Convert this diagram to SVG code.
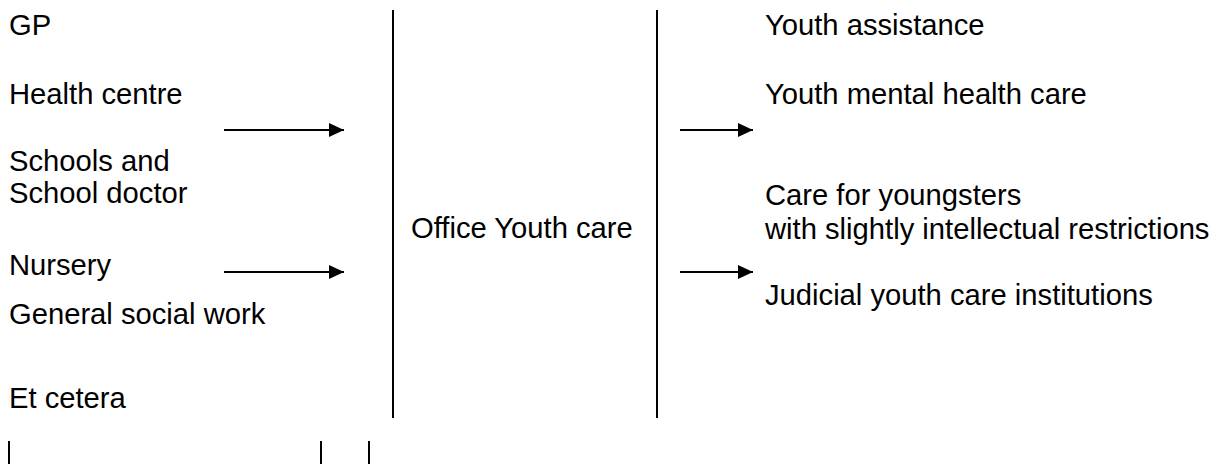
<svg xmlns="http://www.w3.org/2000/svg" width="1222" height="464" viewBox="0 0 1222 464">
<style>
text{font-family:"Liberation Sans",Arial,sans-serif;font-size:29.2px;fill:#000}
.ln{stroke:#000;stroke-width:2;fill:none}
</style>
<defs>
<marker id="ah" markerWidth="16" markerHeight="14" refX="15" refY="7" orient="auto" markerUnits="userSpaceOnUse">
<path d="M0,0 L15,7 L0,14 Z" fill="#000"/>
</marker>
</defs>
<rect width="1222" height="464" fill="#fff"/>
<g id="sources">
<text x="9" y="35">GP</text>
<text x="9" y="104">Health centre</text>
<text x="9" y="171">Schools and</text>
<text x="9" y="203">School doctor</text>
<text x="9" y="275">Nursery</text>
<text x="9" y="324">General social work</text>
<text x="9" y="408">Et cetera</text>
</g>
<g id="office">
<line class="ln" x1="393" y1="10" x2="393" y2="418"/>
<line class="ln" x1="657" y1="10" x2="657" y2="418"/>
<text x="411" y="238">Office Youth care</text>
</g>
<g id="targets">
<text x="765" y="35">Youth assistance</text>
<text x="765" y="104">Youth mental health care</text>
<text x="765" y="205">Care for youngsters</text>
<text x="765" y="239">with slightly intellectual restrictions</text>
<text x="765" y="305">Judicial youth care institutions</text>
</g>
<g id="connectors">
<line class="ln" x1="224" y1="130" x2="344" y2="130" marker-end="url(#ah)"/>
<line class="ln" x1="224" y1="272" x2="344" y2="272" marker-end="url(#ah)"/>
<line class="ln" x1="680" y1="130" x2="753" y2="130" marker-end="url(#ah)"/>
<line class="ln" x1="680" y1="272" x2="753" y2="272" marker-end="url(#ah)"/>
</g>
<g id="ticks">
<line class="ln" x1="9" y1="441" x2="9" y2="464"/>
<line class="ln" x1="321" y1="441" x2="321" y2="464"/>
<line class="ln" x1="369" y1="441" x2="369" y2="464"/>
</g>
</svg>
